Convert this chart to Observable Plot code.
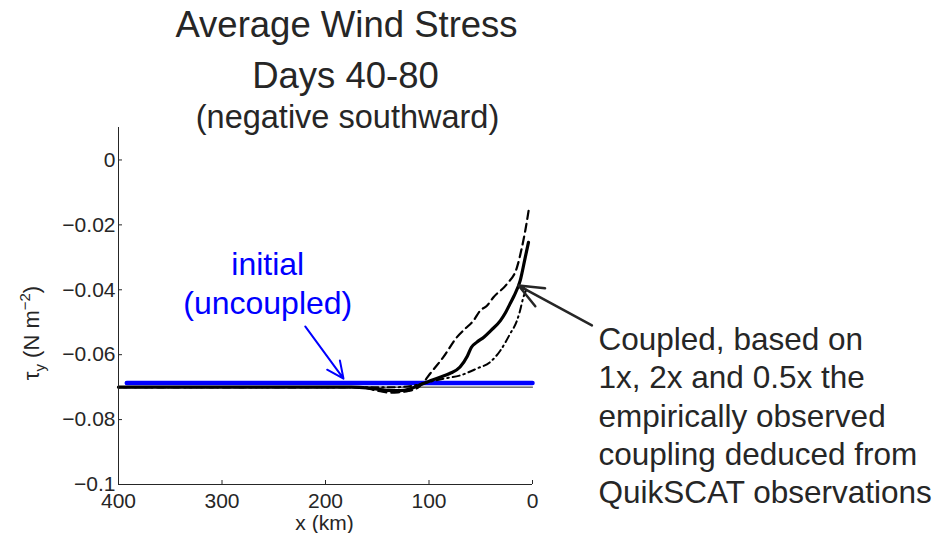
<!DOCTYPE html>
<html><head><meta charset="utf-8">
<script src="https://cdn.jsdelivr.net/npm/d3@7"></script>
<script src="https://cdn.jsdelivr.net/npm/@observablehq/plot@0.6"></script>
<style>html,body{margin:0;padding:0;background:#fff;} #chart{width:952px;height:533px;}</style>
</head><body><div id="chart"></div>
<script>
// ---- tick values / labels ----
const xTicks = [400, 300, 200, 100, 0];
const xTickLabels = ["400", "300", "200", "100", "0"];
const yTicks = [0, -0.02, -0.04, -0.06, -0.08, -0.1];
const yTickLabels = ["0", "−0.02", "−0.04", "−0.06", "−0.08", "−0.1"];

// ---- series: coupled 1x (solid) ----
const x1x = [3.9, 7, 11.9, 18, 22, 26, 31, 40, 47, 54, 59, 63, 70, 80, 90, 96, 108, 118, 128, 140, 150, 160, 175, 400];
const y1x = [-0.0254, -0.030, -0.0372, -0.0420, -0.0445, -0.0470, -0.0495, -0.0525, -0.0546, -0.0562, -0.0577, -0.0605, -0.0638, -0.0658, -0.0670, -0.0677, -0.0692, -0.0705, -0.0711, -0.0710, -0.0706, -0.0702, -0.0700, -0.0700];

// ---- coupled 2x (dashed) ----
const x2x = [3.8, 7, 10.2, 15, 24.7, 37.7, 44, 50.5, 57, 65, 73, 86, 98.8, 105, 110, 120, 130, 137, 145, 152, 160, 170, 400];
const y2x = [-0.0157, -0.0218, -0.0269, -0.0331, -0.0382, -0.0423, -0.0449, -0.0464, -0.0495, -0.0520, -0.0546, -0.0607, -0.0658, -0.0684, -0.0700, -0.0712, -0.0716, -0.0717, -0.0714, -0.0710, -0.0703, -0.0700, -0.0700];

// ---- coupled 0.5x (dash-dot) ----
const xHalf = [6, 9, 12, 15, 21.5, 31, 41, 54, 70, 86, 100, 115, 130, 400];
const yHalf = [-0.0400, -0.0425, -0.0464, -0.0495, -0.0535, -0.0587, -0.0623, -0.0643, -0.0664, -0.0674, -0.0684, -0.0695, -0.0700, -0.0700];

// ---- initial (uncoupled) and reference ----
const initialX = [392, 0];
const initialY = [-0.0687, -0.0687];
const refX = [400, 0];
const refY = [-0.07, -0.07];

// ---- annotations ----
const blueLabel = ["initial\n(uncoupled)"];
const blueLabelX = [255.8];
const blueLabelY = [-0.0474];
const blueArrowX1 = [219.6], blueArrowY1 = [-0.0513], blueArrowX2 = [182.6], blueArrowY2 = [-0.0674];

const coupledLabel = ["Coupled, based on\n1x, 2x and 0.5x the\nempirically observed\ncoupling deduced from\nQuikSCAT observations"];
const coupledLabelX = [-63.8];
const coupledLabelY = [-0.1058];
const blackArrowX1 = [-57.4], blackArrowY1 = [-0.051], blackArrowX2 = [13.5], blackArrowY2 = [-0.0387];

const titles = ["Average Wind Stress", "Days 40-80", "(negative southward)"];
const xLabel = ["x (km)"];

const ink = "#262626";
const idx = (a) => a.map((_, i) => i);

const chart = Plot.plot({
  width: 952,
  height: 533,
  marginTop: 127,
  marginLeft: 118,
  marginRight: 420,
  marginBottom: 49,
  style: {fontFamily: "'Liberation Sans', Arial, Helvetica, sans-serif", fontSize: "21px", color: ink, background: "#fff", overflow: "visible"},
  x: {domain: [400, 0], label: null},
  y: {domain: [-0.1, 0.01], label: null},
  marks: [
    Plot.line(idx(refX), {x: (i) => refX[i], y: (i) => refY[i], stroke: "#222", strokeWidth: 1}),
    Plot.line(idx(initialX), {x: (i) => initialX[i], y: (i) => initialY[i], stroke: "#0000ff", strokeWidth: 4.5}),
    Plot.line(idx(xHalf), {x: (i) => xHalf[i], y: (i) => yHalf[i], stroke: "#000", strokeWidth: 2, strokeDasharray: "7,4,1.5,4", curve: "monotone-x"}),
    Plot.line(idx(x2x), {x: (i) => x2x[i], y: (i) => y2x[i], stroke: "#000", strokeWidth: 2.2, strokeDasharray: "8,5", curve: "monotone-x"}),
    Plot.line(idx(x1x), {x: (i) => x1x[i], y: (i) => y1x[i], stroke: "#000", strokeWidth: 3.2, curve: "monotone-x"}),
    // axis lines
    Plot.ruleX([400], {stroke: ink, strokeWidth: 1}),
    Plot.ruleY([-0.1], {stroke: ink, strokeWidth: 1}),
    // inward ticks
    Plot.ruleX(xTicks, {x: (d) => d, y1: -0.1, y2: -0.1, insetTop: -4, stroke: ink, strokeWidth: 1}),
    Plot.ruleY(yTicks, {y: (d) => d, x1: 400, x2: 400, insetRight: -4, stroke: ink, strokeWidth: 1}),
    Plot.axisX({ticks: xTicks, tickFormat: (d) => xTickLabels[xTicks.indexOf(d)], tickSize: 0, tickPadding: 9, label: null}),
    Plot.axisY({ticks: yTicks, tickFormat: (d) => yTickLabels[yTicks.indexOf(d)], tickSize: 0, tickPadding: 3, label: null}),
    // arrows
    Plot.arrow([0], {x1: blueArrowX1, y1: blueArrowY1, x2: blueArrowX2, y2: blueArrowY2, stroke: "#0000ff", strokeWidth: 2, headLength: 14, headAngle: 50}),
    Plot.arrow([0], {x1: blackArrowX1, y1: blackArrowY1, x2: blackArrowX2, y2: blackArrowY2, stroke: ink, strokeWidth: 2.5, headLength: 16, headAngle: 45}),
    // annotation texts
    Plot.text(blueLabel, {x: blueLabelX, y: blueLabelY, text: (d) => d, fill: "#0000ff", fontSize: 32, lineHeight: 1.22, lineAnchor: "bottom", textAnchor: "middle"}),
    Plot.text(coupledLabel, {x: coupledLabelX, y: coupledLabelY, text: (d) => d, fill: ink, fontSize: 31.5, lineHeight: 1.216, lineAnchor: "bottom", textAnchor: "start"}),
    // titles
    Plot.text([titles[0]], {frameAnchor: "top", text: (d) => d, dx: 21, dy: -90.3, fontSize: 36.5, lineAnchor: "bottom", fill: ink}),
    Plot.text([titles[1]], {frameAnchor: "top", text: (d) => d, dx: 20, dy: -40, fontSize: 36.5, lineAnchor: "bottom", fill: ink}),
    Plot.text([titles[2]], {frameAnchor: "top", text: (d) => d, dx: 22, dy: 0, fontSize: 32.5, lineAnchor: "bottom", fill: ink}),
    Plot.text(xLabel, {frameAnchor: "bottom", text: (d) => d, dx: -1, dy: 45, fontSize: 21, lineAnchor: "bottom", fill: ink})
  ]
});
document.getElementById("chart").appendChild(chart);

// y-axis label with subscript / superscript
const svg = d3.select(chart);
const lab = svg.append("text")
  .attr("transform", "translate(39,333) rotate(-90)")
  .attr("text-anchor", "middle")
  .attr("font-size", 22)
  .attr("fill", ink);
lab.append("tspan").text("τ");
lab.append("tspan").attr("dy", 6).attr("font-size", 15).text("y");
lab.append("tspan").attr("dy", -6).text(" (N m");
lab.append("tspan").attr("dy", -9).attr("font-size", 15).text("−2");
lab.append("tspan").attr("dy", 9).text(")");
</script>
</body></html>
